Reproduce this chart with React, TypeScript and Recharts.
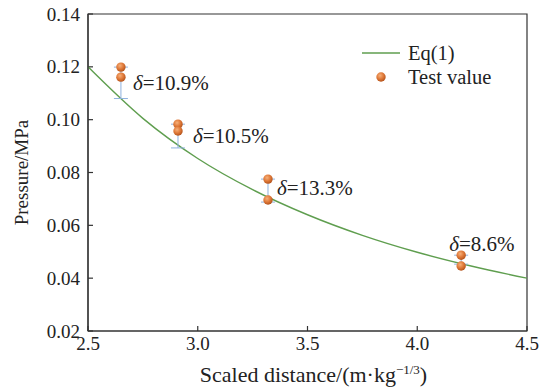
import React from 'react';
import { ComposedChart, Line, Scatter, XAxis, YAxis, ErrorBar, ReferenceArea, Legend } from 'recharts';

// Eq(1) curve
const eqX = [2.5, 2.75, 3.0, 3.25, 3.5, 3.75, 4.0, 4.25, 4.5];
const eqP = [0.12, 0.1005, 0.0853, 0.0735, 0.064, 0.0562, 0.0498, 0.0445, 0.04];

// Test values
const testX = [2.65, 2.91, 3.32, 4.2];
const testHigh = [0.1199, 0.0983, 0.0775, 0.0487];
const testLow = [0.1161, 0.0957, 0.0696, 0.0446];
const eqAtTest = [0.108, 0.0893, 0.0688, 0.0453];
const deltaLabels = ['10.9%', '10.5%', '13.3%', '8.6%'];

const xTicks = [2.5, 3.0, 3.5, 4.0, 4.5];
const yTicks = [0.02, 0.04, 0.06, 0.08, 0.1, 0.12, 0.14];
const X_MIN = 2.5;
const X_MAX = 4.5;
const Y_MIN = 0.02;
const Y_MAX = 0.14;

// styles
const FONT = "'Liberation Serif', 'Times New Roman', Times, serif";
const GREEN = '#5f9e4f';
const BLUE = '#8fb2de';
const AXIS = '#333';
const TEXT = '#222';
const PLOT_W = 439;
const PLOT_H = 317;
const TICK_PX = 5;
const LABEL_OFFSETS = [
  { dx: 12, dy: 16 },
  { dx: 15, dy: 11 },
  { dx: 9, dy: 9 },
  { dx: -12, dy: -12 },
];

const lineData = eqX.map((x, i) => ({ x, y: eqP[i] }));
const testData = [
  ...testX.map((x, i) => ({ x, y: testHigh[i] })),
  ...testX.map((x, i) => ({ x, y: testLow[i] })),
];
const errData = testX.map((x, i) => ({
  x,
  y: testHigh[i],
  err: [testHigh[i] - eqAtTest[i], 0],
  label: deltaLabels[i],
}));
// inner tick marks, drawn as one-sided error bars on the axis lines
const xTickMarks = xTicks.map((x) => ({ x, y: Y_MIN, tk: [0, ((Y_MAX - Y_MIN) * TICK_PX) / PLOT_H] }));
const yTickMarks = yTicks.map((y) => ({ x: X_MIN, y, tk: [0, ((X_MAX - X_MIN) * TICK_PX) / PLOT_W] }));

const Ball = ({ cx, cy, r = 4.7 }: any) => (
  <circle cx={cx} cy={cy} r={r} fill="url(#ballGrad)" />
);
const NoShape = () => <g />;

const XTick = ({ x, y, payload }: any) => (
  <text x={x} y={y} dy="0.71em" textAnchor="middle" fontFamily={FONT} fontSize={19} fill={TEXT}>
    {Number(payload.value).toFixed(1)}
  </text>
);

const YTick = ({ x, y, payload }: any) => (
  <text x={x} y={y} dy="0.35em" textAnchor="end" fontFamily={FONT} fontSize={19} fill={TEXT}>
    {Number(payload.value).toFixed(2)}
  </text>
);

const XTitle = ({ viewBox }: any) => {
  const { x, y, width } = viewBox;
  return (
    <text x={x + width / 2 + 6} y={y + 51} textAnchor="middle" fontFamily={FONT} fontSize={22} fill={TEXT}>
      Scaled distance/(m·kg
      <tspan dy={-8} fontSize={13}>−1/3</tspan>
      <tspan dy={8}>)</tspan>
    </text>
  );
};

const YTitle = ({ viewBox }: any) => {
  const { y, height } = viewBox;
  const cx = 28;
  const cy = y + height / 2;
  return (
    <text
      x={cx}
      y={cy}
      transform={`rotate(-90 ${cx} ${cy})`}
      textAnchor="middle"
      fontFamily={FONT}
      fontSize={19}
      fill={TEXT}
    >
      Pressure/MPa
    </text>
  );
};

const DeltaShape = (props: any) => {
  const { cx, cy, index, payload } = props;
  const off = LABEL_OFFSETS[index] || { dx: 10, dy: 0 };
  return (
    <text x={cx + off.dx} y={cy + off.dy} dy="0.35em" fontFamily={FONT} fontSize={21} fill={TEXT}>
      <tspan fontStyle="italic">δ</tspan>={payload.label}
    </text>
  );
};

const LegendContent = () => (
  <div style={{ fontFamily: FONT, fontSize: 20.5, color: TEXT, lineHeight: '24px' }}>
    <div style={{ display: 'flex', alignItems: 'center', height: 24 }}>
      <svg width={50} height={24}>
        <line x1={4} x2={42} y1={12} y2={12} stroke={GREEN} strokeWidth={1.5} />
      </svg>
      <span>Eq(1)</span>
    </div>
    <div style={{ display: 'flex', alignItems: 'center', height: 24 }}>
      <svg width={50} height={24}>
        <defs>
          <radialGradient id="ballGradL" cx="40%" cy="35%" r="65%">
            <stop offset="0%" stopColor="#f6b07a" />
            <stop offset="55%" stopColor="#e07a3a" />
            <stop offset="100%" stopColor="#b5541c" />
          </radialGradient>
        </defs>
        <circle cx={23} cy={12} r={4.7} fill="url(#ballGradL)" />
      </svg>
      <span>Test value</span>
    </div>
  </div>
);

export default function App() {
  return (
    <div style={{ position: 'absolute', left: 0, top: 0, background: '#fff' }}>
      <ComposedChart width={544} height={388} margin={{ top: 14, right: 17, bottom: 0, left: 0 }}>
        <defs>
          <radialGradient id="ballGrad" cx="40%" cy="35%" r="65%">
            <stop offset="0%" stopColor="#f6b07a" />
            <stop offset="55%" stopColor="#e07a3a" />
            <stop offset="100%" stopColor="#b5541c" />
          </radialGradient>
        </defs>
        <ReferenceArea x1={X_MIN} x2={X_MAX} y1={Y_MIN} y2={Y_MAX} fill="none" stroke={AXIS} strokeWidth={1.2} ifOverflow="visible" />
        <XAxis
          type="number"
          dataKey="x"
          domain={[X_MIN, X_MAX]}
          ticks={xTicks}
          allowDataOverflow
          height={57}
          tickSize={0}
          tickMargin={6}
          tickLine={false}
          axisLine={{ stroke: AXIS, strokeWidth: 1.2 }}
          tick={<XTick />}
          label={<XTitle />}
          interval={0}
        />
        <YAxis
          type="number"
          dataKey="y"
          domain={[Y_MIN, Y_MAX]}
          ticks={yTicks}
          allowDataOverflow
          width={88}
          tickSize={0}
          tickMargin={8}
          tickLine={false}
          axisLine={{ stroke: AXIS, strokeWidth: 1.2 }}
          tick={<YTick />}
          label={<YTitle />}
          interval={0}
        />
        <Scatter data={xTickMarks} dataKey="y" shape={<NoShape />} isAnimationActive={false} legendType="none">
          <ErrorBar dataKey="tk" direction="y" width={0} stroke={AXIS} strokeWidth={1.2} />
        </Scatter>
        <Scatter data={yTickMarks} dataKey="y" shape={<NoShape />} isAnimationActive={false} legendType="none">
          <ErrorBar dataKey="tk" direction="x" width={0} stroke={AXIS} strokeWidth={1.2} />
        </Scatter>
        <Line
          data={lineData}
          dataKey="y"
          type="monotone"
          stroke={GREEN}
          strokeWidth={1.4}
          dot={false}
          isAnimationActive={false}
        />
        <Scatter data={errData} dataKey="y" shape={<DeltaShape />} isAnimationActive={false}>
          <ErrorBar dataKey="err" direction="y" width={7} stroke={BLUE} strokeWidth={1} />
        </Scatter>
        <Scatter data={testData} dataKey="y" shape={<Ball />} isAnimationActive={false} />
        <Legend
          layout="vertical"
          align="center"
          verticalAlign="middle"
          content={<LegendContent />}
          wrapperStyle={{ left: 358, top: 41, width: 'auto', height: 'auto' }}
        />
      </ComposedChart>
    </div>
  );
}
